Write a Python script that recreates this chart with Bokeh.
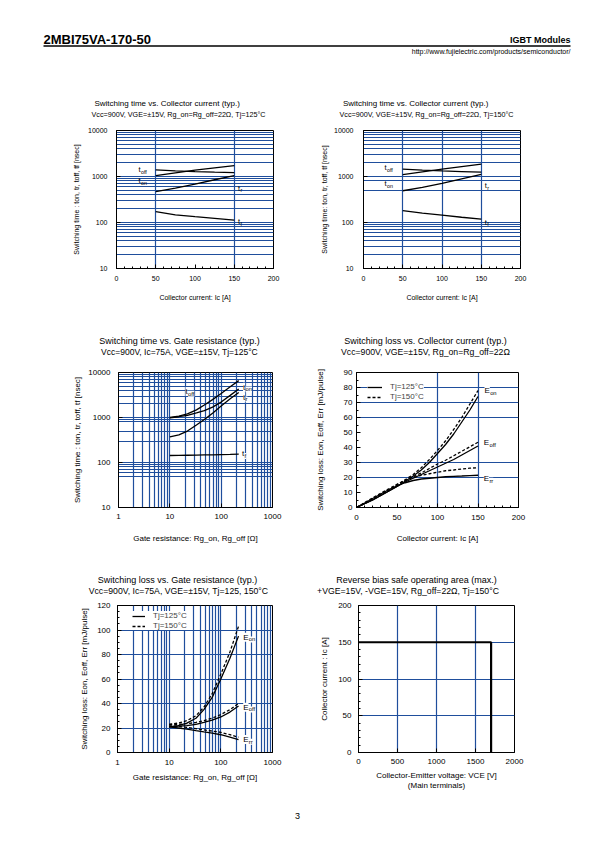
from bokeh.plotting import figure
from bokeh.models import (Range1d, FixedTicker, BasicTickFormatter, Label, Legend,
                          LegendItem, BoxAnnotation, Spacer)
from bokeh.layouts import column, row
from bokeh.embed import file_html
from bokeh.resources import INLINE

FONT = "Liberation Sans"
GRID = "#1f4e9c"

# ---------------- data ----------------
# Switching time vs collector current (Tj=125 / 150)
ic_sw = [50, 75, 100, 125, 150]
toff_125 = [1400, 1330, 1280, 1240, 1210]
ton_125 = [1050, 1200, 1370, 1540, 1720]
tr_125 = [470, 560, 680, 850, 1050]
tf_125 = [172, 147, 134, 123, 113]

toff_150 = [1440, 1370, 1320, 1280, 1240]
ton_150 = [1100, 1260, 1440, 1640, 1860]
tr_150 = [490, 580, 710, 890, 1110]
tf_150 = [182, 160, 144, 130, 118]

# Switching time vs gate resistance
rg = [10, 15, 22, 33, 47, 68, 100, 150, 220]
toff_rg = [1000, 1070, 1200, 1480, 1900, 2500, 3400, 4800, 6600]
ton_rg = [980, 1040, 1120, 1270, 1420, 1700, 2200, 3100, 4300]
tr_rg = [370, 410, 500, 680, 900, 1250, 1800, 2600, 3600]
tf_rg = [143, 144, 145, 146, 147, 148, 150, 151, 153]

# Switching loss vs collector current
ic_loss = [0, 10, 20, 30, 40, 50, 60, 70, 80, 90, 100, 110, 120, 130, 140, 150]
eon_125 = [0, 2.5, 5, 8, 11, 14, 17.5, 21, 25, 30, 36, 42, 49, 57, 65, 74]
eon_150 = [0, 2.7, 5.5, 8.5, 11.5, 15, 18.5, 22, 26.5, 32, 38, 44.5, 52, 60, 69, 78]
eoff_125 = [0, 2.5, 5, 8, 11, 14, 17, 19.5, 22, 24.5, 27, 29.5, 32, 35, 38, 41]
eoff_150 = [0, 2.7, 5.5, 8.5, 11.5, 15, 18, 20.5, 23, 26, 29, 31.5, 34.5, 37.5, 40.5, 43.5]
err_125 = [0, 3, 6, 9, 12, 14.5, 16.5, 18, 19, 19.5, 20, 20.5, 20.8, 21, 21.3, 21.5]
err_150 = [0, 3.2, 6.5, 9.5, 12.5, 15.5, 18, 20, 21.5, 22.5, 23.5, 24.5, 25, 25.7, 26.2, 26.5]

# Switching loss vs gate resistance
eon_rg_125 = [21, 22, 24, 28, 35, 45, 60, 77, 95]
eon_rg_150 = [23, 24, 26, 30, 37, 48, 64, 82, 103]
eoff_rg_125 = [21, 21.5, 22, 23, 24.5, 26.5, 29, 33, 38]
eoff_rg_150 = [23, 23, 23.5, 24.5, 26, 28, 31, 35, 40]
err_rg_125 = [21, 20, 19, 17.8, 16.8, 15.8, 14.5, 12.5, 10.5]
err_rg_150 = [22, 21.3, 20.5, 19.5, 18.5, 17.5, 16.5, 14.5, 12.5]

# RBSOA
vce_rbsoa = [0, 1700, 1700]
ic_rbsoa = [150, 150, 0]

# tick labels / grid positions
lin_0_200 = [0, 50, 100, 150, 200]
log_time = [10, 100, 1000, 10000]
log_rg = [1, 10, 100, 1000]


def log_minors(lo, hi):
    vals = [k * 10 ** e for e in range(lo, hi) for k in range(1, 10)]
    return vals + [10 ** hi]


def make_chart(w, h, bl, br, bt, bb, xr, yr, xlog=False, ylog=False,
               xticks=None, xminor=None, yticks=None, yminor=None,
               xgrid=None, ygrid=None, tick_fs=8, lab_fs=8,
               xstand=(7, 10), ystand=(8, 3), xlabel="", ylabel=""):
    p = figure(width=w, height=h, x_range=Range1d(*xr), y_range=Range1d(*yr),
               x_axis_type="log" if xlog else "linear",
               y_axis_type="log" if ylog else "linear",
               output_backend="svg", toolbar_location=None,
               min_border_left=bl, min_border_right=br,
               min_border_top=bt, min_border_bottom=bb)
    p.outline_line_color = "black"
    p.outline_line_width = 1
    p.xaxis.ticker = FixedTicker(ticks=xticks, minor_ticks=xminor or [])
    p.yaxis.ticker = FixedTicker(ticks=yticks, minor_ticks=yminor or [])
    p.xaxis.formatter = BasicTickFormatter(use_scientific=False)
    p.yaxis.formatter = BasicTickFormatter(use_scientific=False)
    for ax, (ls, als) in ((p.xaxis[0], xstand), (p.yaxis[0], ystand)):
        ax.major_tick_in = 4
        ax.major_tick_out = 0
        ax.minor_tick_in = 2
        ax.minor_tick_out = 0
        ax.major_label_standoff = ls
        ax.axis_label_standoff = als
        ax.major_label_text_font = FONT
        ax.major_label_text_font_size = f"{tick_fs}px"
        ax.major_label_text_color = "black"
        ax.axis_label_text_font = FONT
        ax.axis_label_text_font_size = f"{lab_fs}px"
        ax.axis_label_text_font_style = "normal"
        ax.axis_label_text_color = "black"
        ax.axis_line_color = "black"
        ax.major_tick_line_color = "black"
        ax.minor_tick_line_color = "black"
    p.xaxis.axis_label = xlabel
    p.yaxis.axis_label = ylabel
    for g, ticks in ((p.xgrid[0], xgrid), (p.ygrid[0], ygrid)):
        if ticks:
            g.ticker = FixedTicker(ticks=ticks)
            g.grid_line_color = GRID
            g.grid_line_width = 1.2
        else:
            g.visible = False
    return p


def strip(h, y0):
    """Full-width figure without axes whose data units are page pixels."""
    t = figure(width=579, height=h, x_range=Range1d(8, 587), y_range=Range1d(y0 + h, y0),
               output_backend="svg", toolbar_location=None, x_axis_type=None,
               y_axis_type=None, min_border=0)
    t.outline_line_color = None
    t.grid.visible = False
    return t


def page_text(t, x, y, s, size, align="center", bold=False):
    t.add_layout(Label(x=x, y=y, text=s, text_font=FONT, text_font_size=f"{size}px",
                       text_align=align, text_baseline="middle", text_color="black",
                       text_font_style="bold" if bold else "normal"))


def text(p, x, y, s, size, align="center", bg=False):
    kw = {}
    if bg:
        kw = dict(background_fill_color="white", background_fill_alpha=1.0)
    p.add_layout(Label(x=x, y=y, x_units="screen", y_units="screen", text=s,
                       text_font=FONT, text_font_size=f"{size}px",
                       text_align=align, text_baseline="middle",
                       text_color="black", **kw))


WIDTH_EM = {"t": 0.278, "E": 0.667}


def sublabel(p, x, y, main, sub, size=8, bg=False):
    text(p, x, y, main, size, align="left", bg=bg)
    text(p, x + WIDTH_EM[main] * size + 0.3, y - size * 0.28, sub, round(size * 0.72, 1),
         align="left", bg=bg)


def curves(p, x, ys, dash="solid", width=1.3):
    rs = []
    for y in ys:
        rs.append(p.line(x, y, line_color="black", line_width=width, line_dash=dash))
    return rs


def legend(p, rsolid, rdash, loc, gw):
    lg = Legend(items=[LegendItem(label="Tj=125°C", renderers=[rsolid]),
                       LegendItem(label="Tj=150°C", renderers=[rdash])],
                location=loc, glyph_width=gw, glyph_height=8, label_height=8,
                label_standoff=8, padding=3, spacing=1, margin=0,
                background_fill_color="white", background_fill_alpha=1.0,
                border_line_color=None, label_text_font=FONT,
                label_text_font_size="8px", label_text_baseline="middle")
    p.add_layout(lg)


TIME_LABEL = "Switching time : ton, tr, toff, tf [nsec]"
LOSS_LABEL = "Switching loss: Eon, Eoff, Err [mJ/pulse]"
IC_LABEL = "Collector current: Ic [A]"
RG_LABEL = "Gate resistance: Rg_on, Rg_off [Ω]"

# ---------------- strip A: header + row-1 titles (page 8..127) ----------------
sA = strip(119, 8)
page_text(sA, 43, 38.5, "2MBI75VA-170-50", 13, align="left", bold=True)
page_text(sA, 570, 39.5, "IGBT Modules", 9, align="right", bold=True)
page_text(sA, 570, 50.5, "http://www.fujielectric.com/products/semiconductor/", 7,
          align="right")
sA.add_layout(BoxAnnotation(left=43, right=570, top=44.7, bottom=46.2,
                            fill_color="black", fill_alpha=1.0, line_color=None))
page_text(sA, 170, 103, "Switching time  vs.  Collector current  (typ.)", 8)
page_text(sA, 178, 114, "Vcc=900V, VGE=±15V, Rg_on=Rg_off=22Ω, Tj=125°C", 7.2)
page_text(sA, 418.5, 103, "Switching time  vs.  Collector current  (typ.)", 8)
page_text(sA, 426, 114, "Vcc=900V, VGE=±15V, Rg_on=Rg_off=22Ω, Tj=150°C", 7.2)

# ---------------- chart 1 (page 127..320, left 8) ----------------
p1 = make_chart(290, 193, 108, 25, 3, 52, (0, 200), (10, 10000), ylog=True,
                xticks=lin_0_200, xminor=list(range(0, 201, 10)), yticks=log_time,
                xgrid=[50, 150], ygrid=log_minors(1, 4), tick_fs=7, lab_fs=7,
                xstand=(7, 10), ystand=(9, 5), xlabel=IC_LABEL, ylabel=TIME_LABEL)
curves(p1, ic_sw, [toff_125, ton_125, tr_125, tf_125])
sublabel(p1, 22, 98.7, "t", "off", 7.5)
sublabel(p1, 22, 88, "t", "on", 7.5)
sublabel(p1, 121.5, 80.3, "t", "r", 7.5)
sublabel(p1, 121.5, 47, "t", "f", 7.5)

# ---------------- chart 2 (page 127..320, left 298) ----------------
p2 = make_chart(289, 193, 65, 67, 3, 52, (0, 200), (10, 10000), ylog=True,
                xticks=lin_0_200, xminor=list(range(0, 201, 10)), yticks=log_time,
                xgrid=[50, 100, 150],
                ygrid=[20, 30, 40, 50, 60, 70, 80, 90, 100, 500, 800, 1000,
                       2000, 3000, 4000, 5000, 6000, 7000, 8000, 9000, 10000],
                tick_fs=7, lab_fs=7, xstand=(7, 10), ystand=(10, 3),
                xlabel=IC_LABEL, ylabel="Switching time: ton, tr, toff, tf [nsec]")
curves(p2, ic_sw, [toff_150, ton_150, tr_150, tf_150])
sublabel(p2, 21, 100.7, "t", "off", 7.5)
sublabel(p2, 21, 84.7, "t", "on", 7.5)
sublabel(p2, 121.3, 83, "t", "r", 7.5)
sublabel(p2, 121.3, 46.3, "t", "f", 7.5)

# ---------------- strip B: row-2 titles (page 320..366) ----------------
sB = strip(46, 320)
page_text(sB, 179, 340, "Switching time vs. Gate resistance (typ.)", 9)
page_text(sB, 179, 351, "Vcc=900V, Ic=75A, VGE=±15V, Tj=125°C", 8.5)
page_text(sB, 425, 340, "Switching loss vs. Collector current (typ.)", 9)
page_text(sB, 425, 351, "Vcc=900V, VGE=±15V, Rg_on=Rg_off=22Ω", 8.7)

# ---------------- chart 3 (page 366..560, left 8) ----------------
p3 = make_chart(290, 194, 110, 26, 3, 53, (1, 1000), (10, 10000), xlog=True, ylog=True,
                xticks=log_rg, yticks=log_time, xgrid=log_minors(0, 3),
                ygrid=[50, 60, 70, 80, 90, 100, 300, 500, 800, 900, 1000, 2000, 3000,
                       4000, 5000, 6000, 7000, 8000, 9000, 10000],
                tick_fs=8, lab_fs=8, xstand=(6, 12), ystand=(8, 3),
                xlabel=RG_LABEL, ylabel=TIME_LABEL)
curves(p3, rg, [toff_rg, ton_rg, tr_rg, tf_rg])
sublabel(p3, 67, 116, "t", "off", 8, bg=True)
sublabel(p3, 124.5, 120.3, "t", "on", 8, bg=True)
sublabel(p3, 124.5, 110.3, "t", "r", 8, bg=True)
sublabel(p3, 123.5, 53.7, "t", "f", 8, bg=True)

# ---------------- chart 4 (page 366..560, left 298) ----------------
p4 = make_chart(289, 194, 58, 69, 6, 52, (0, 200), (0, 90),
                xticks=lin_0_200, xminor=list(range(0, 201, 10)),
                yticks=list(range(0, 91, 10)), yminor=list(range(0, 91, 5)),
                xgrid=[100, 150], ygrid=[20, 30, 60, 70, 80],
                tick_fs=8, lab_fs=8, xstand=(7, 11), ystand=(4, 16),
                xlabel=IC_LABEL, ylabel=LOSS_LABEL)
s4 = curves(p4, ic_loss, [eon_125, eoff_125, err_125])
d4 = curves(p4, ic_loss, [eon_150, eoff_150, err_150], dash="3 2")
legend(p4, s4[0], d4[0], (11, 106), 15)
sublabel(p4, 128, 117, "E", "on", 8, bg=True)
sublabel(p4, 127.3, 64.7, "E", "off", 8, bg=True)
sublabel(p4, 127.3, 29, "E", "rr", 8, bg=True)

# ---------------- strip C: row-3 titles (page 560..601) ----------------
sC = strip(41, 560)
page_text(sC, 179.5, 579, "Switching loss  vs.  Gate resistance (typ.)", 9)
page_text(sC, 178, 590, "Vcc=900V, Ic=75A, VGE=±15V, Tj=125, 150°C", 8.7)
page_text(sC, 416, 579, "Reverse bias safe operating area (max.)", 9)
page_text(sC, 407.5, 590, "+VGE=15V, -VGE=15V, Rg_off=22Ω, Tj=150°C", 8.7)

# ---------------- chart 5 (page 601..800, left 8) ----------------
p5 = make_chart(290, 199, 109, 26, 3, 48, (1, 1000), (0, 120), xlog=True,
                xticks=log_rg, yticks=list(range(0, 121, 20)),
                yminor=list(range(0, 121, 5)),
                xgrid=log_minors(0, 3)[1:-1], ygrid=[20, 40, 60, 80, 100],
                tick_fs=8, lab_fs=8, xstand=(7, 5), ystand=(7, 5),
                xlabel=RG_LABEL, ylabel=LOSS_LABEL)
s5 = curves(p5, rg, [eon_rg_125, eoff_rg_125, err_rg_125])
d5 = curves(p5, rg, [eon_rg_150, eoff_rg_150, err_rg_150], dash="3 2")
legend(p5, s5[0], d5[0], (15, 122), 13)
sublabel(p5, 125.7, 115.3, "E", "on", 8, bg=True)
sublabel(p5, 125.7, 45.3, "E", "off", 8, bg=True)
sublabel(p5, 125.7, 13, "E", "rr", 8, bg=True)

# ---------------- chart 6 (page 601..800, left 298) ----------------
p6 = make_chart(289, 199, 60, 73, 4, 47, (0, 2000), (0, 200),
                xticks=[0, 500, 1000, 1500, 2000], yticks=[0, 50, 100, 150, 200],
                yminor=list(range(0, 201, 10)),
                xgrid=[500, 1000, 1500], ygrid=[50, 100, 150],
                tick_fs=8, lab_fs=8, xstand=(6, 4), ystand=(7, 6),
                xlabel="Collector-Emitter voltage: VCE [V]\n(Main terminals)",
                ylabel="Collector current : Ic [A]")
p6.line(vce_rbsoa, ic_rbsoa, line_color="black", line_width=2.2)

# ---------------- footer (page 800..834) ----------------
ftr = strip(34, 800)
page_text(ftr, 297, 815, "3", 9)

content = column(sA, row(p1, p2, spacing=0), sB, row(p3, p4, spacing=0), sC,
                 row(p5, p6, spacing=0), ftr, spacing=0)
layout = column(Spacer(height=8), row(Spacer(width=8), content, spacing=0), spacing=0)

with open("out.html", "w") as f:
    f.write(file_html(layout, INLINE))
